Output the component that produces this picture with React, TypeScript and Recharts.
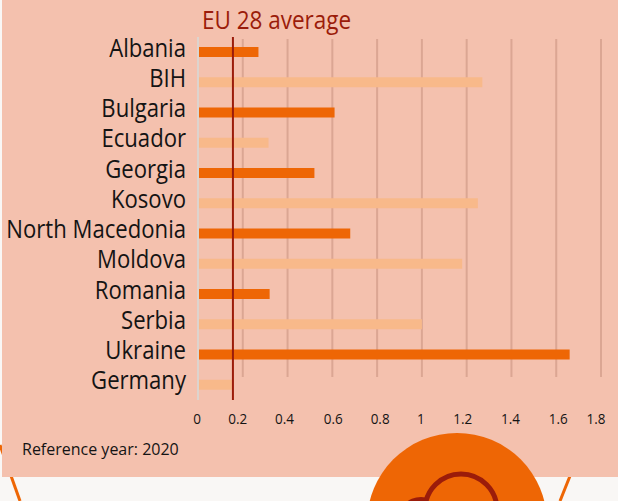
import { BarChart, Bar, Cell, XAxis, YAxis, CartesianGrid, ReferenceLine } from 'recharts';

const countries = ['Albania', 'BIH', 'Bulgaria', 'Ecuador', 'Georgia', 'Kosovo', 'North Macedonia', 'Moldova', 'Romania', 'Serbia', 'Ukraine', 'Germany'];
const values = [0.27, 1.27, 0.61, 0.315, 0.52, 1.25, 0.68, 1.18, 0.32, 1.0, 1.66, 0.16];
const xTicks = [0, 0.2, 0.4, 0.6, 0.8, 1, 1.2, 1.4, 1.6, 1.8];
const euAverage = 0.156;

const chartData = countries.map((name, i) => ({ name, value: values[i] }));

// no condensed font installed, so the text is squeezed horizontally
const FONT = '"Open Sans", sans-serif';
const DARK_ORANGE = '#EE6605';
const LIGHT_ORANGE = '#F8B98A';
const DARK_RED = '#9B1C0A';
const TEXT = '#141414';
// the original's value labels sit a little off their grid lines
const TICK_NUDGE = [-1, -5, -3, 1, 3, -1, -4, -1, 2, -5];

// grid stops short of the last row in the original
const GridLine = (props: any) => (
  <line x1={props.x1} x2={props.x2} y1={props.y1 + 2} y2={props.y2 - 23} stroke="#DBA693" strokeWidth={2} />
);

const EuLabel = (props: any) => (
  <text transform={`translate(${props.viewBox.x - 31} 29) scale(0.9 1)`} fill={DARK_RED} fontSize={25} fontFamily={FONT}>
    EU 28 average
  </text>
);

const CountryTick = ({ x, y, payload }: any) => (
  <text transform={`translate(${x} ${y - 5}) scale(0.885 1)`} textAnchor="end" dominantBaseline="central" fill={TEXT} fontSize={25} fontFamily={FONT}>
    {payload.value}
  </text>
);

const ValueTick = ({ x, y, payload, index }: any) => (
  <text transform={`translate(${x + TICK_NUDGE[index]} ${y + 6}) scale(0.9 1)`} textAnchor="middle" dominantBaseline="central" fill={TEXT} fontSize={15} fontFamily={FONT}>
    {payload.value}
  </text>
);

export default function App() {
  return (
    <div style={{ position: 'absolute', left: 0, top: 0, width: 618, height: 501, background: '#F9F7F5', overflow: 'hidden' }}>
      {/* decoration behind the panel */}
      <svg width={618} height={501} style={{ position: 'absolute', left: 0, top: 0 }}>
        <line x1={0} y1={445} x2={20} y2={501} stroke={DARK_ORANGE} strokeWidth={3} />
        <line x1={572} y1={471} x2={560} y2={501} stroke={DARK_ORANGE} strokeWidth={3} />
        <rect x={2} y={0} width={616} height={477} fill="#F4C1AE" />
        <circle cx={457} cy={523} r={90} fill={DARK_ORANGE} />
        <circle cx={421} cy={521} r={24} fill={DARK_RED} />
        <circle cx={461} cy={510} r={36} fill={DARK_ORANGE} stroke={DARK_RED} strokeWidth={5} />
      </svg>

      <div style={{ position: 'absolute', left: 0, top: 0 }}>
        <BarChart width={618} height={501} data={chartData} layout="vertical" margin={{ top: 37, right: 17, bottom: 71, left: 0 }}>
          <CartesianGrid horizontal={false} vertical={GridLine as any} />
          <XAxis
            type="number"
            domain={[0, 1.8]}
            ticks={xTicks}
            interval={0}
            height={30}
            axisLine={false}
            tickLine={false}
            tickMargin={6}
            tick={<ValueTick />}
          />
          <YAxis
            type="category"
            dataKey="name"
            width={198}
            interval={0}
            axisLine={{ stroke: '#DDD4CE', strokeWidth: 2 }}
            tickLine={false}
            tickMargin={6}
            tick={<CountryTick />}
          />
          <Bar dataKey="value" barSize={10} isAnimationActive={false}>
            {chartData.map((entry, index) => (
              <Cell key={`cell-${index}`} fill={index % 2 === 0 ? DARK_ORANGE : LIGHT_ORANGE} />
            ))}
          </Bar>
          <ReferenceLine x={euAverage} stroke={DARK_RED} strokeWidth={2} label={<EuLabel />} />
        </BarChart>
      </div>

      <div style={{ position: 'absolute', left: 22, top: 439, color: TEXT, fontSize: 16, lineHeight: '20px', fontFamily: FONT }}>
        Reference year: 2020
      </div>
    </div>
  );
}
